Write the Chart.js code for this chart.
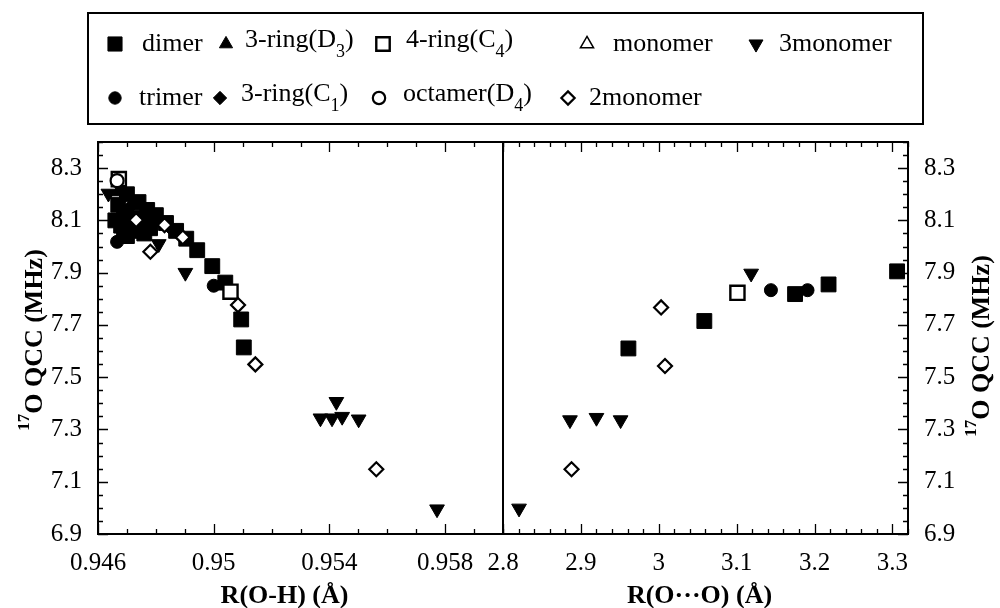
<!DOCTYPE html>
<html>
<head>
<meta charset="utf-8">
<script src="https://cdn.jsdelivr.net/npm/chart.js@4/dist/chart.umd.min.js"></script>
<style>
  html, body { margin: 0; background: #fff; }
</style>
</head>
<body>
<canvas id="qcc" width="1000" height="608"></canvas>
<script>
// axis ticks
const ohTicks = [0.946, 0.95, 0.954, 0.958];
const ooTicks = [2.8, 2.9, 3, 3.1, 3.2, 3.3];
const qccTicks = [6.9, 7.1, 7.3, 7.5, 7.7, 7.9, 8.1, 8.3];

// [R, QCC] pairs; OH = left panel, OO = right panel
const dimerOH = [[0.9470, 8.20], [0.9474, 8.17], [0.9477, 8.14], [0.9480, 8.12], [0.94835, 8.09],
  [0.9487, 8.06], [0.94905, 8.03], [0.94943, 7.986], [0.94995, 7.925], [0.9504, 7.862],
  [0.95095, 7.721], [0.95104, 7.614], [0.9468, 8.08], [0.9470, 8.04], [0.9473, 8.06],
  [0.9476, 8.05], [0.9469, 8.12], [0.9472, 8.11], [0.9467, 8.16], [0.9471, 8.08],
  [0.9475, 8.10], [0.9478, 8.07], [0.9466, 8.10], [0.9469, 8.06]];
const dimerOO = [[2.961, 7.61], [3.0585, 7.715], [3.175, 7.818], [3.218, 7.855], [3.306, 7.905]];
const ring3D3OH = [[0.9467, 8.21], [0.9474, 8.05]];
const ring3D3OO = [];
const ring4C4OH = [[0.94672, 8.258], [0.95058, 7.827]];
const ring4C4OO = [[3.101, 7.823]];
const monomerOH = [];
const monomerOO = [];
const monomer3OH = [[0.94636, 8.203], [0.9481, 8.01], [0.94902, 7.90], [0.95369, 7.343],
  [0.95409, 7.343], [0.95444, 7.349], [0.95424, 7.406], [0.95501, 7.339], [0.95772, 6.995]];
const monomer3OO = [[2.8206, 6.998], [2.886, 7.336], [2.920, 7.345], [2.951, 7.336], [3.1186, 7.897]];
const trimerOH = [[0.94666, 8.018], [0.9500, 7.850]];
const trimerOO = [[3.144, 7.833], [3.191, 7.833]];
const ring3C1OH = [[0.9471, 8.15], [0.9478, 8.09], [0.9485, 8.07]];
const ring3C1OO = [];
const octamerOH = [[0.94666, 8.252]];
const octamerOO = [];
const monomer2OH = [[0.94732, 8.101], [0.9483, 8.082], [0.94893, 8.035], [0.94781, 7.98],
  [0.95084, 7.776], [0.95144, 7.549], [0.95562, 7.148]];
const monomer2OO = [[2.888, 7.148], [3.003, 7.767], [3.008, 7.543]];

const FONT = "'Liberation Serif', 'Times New Roman', serif";

const filled = (style, r, rot) => ({ pointStyle: style, pointRadius: r, pointRotation: rot || 0,
  pointBackgroundColor: '#000', pointBorderColor: '#000', pointBorderWidth: 1 });
const open = (style, r, w) => ({ pointStyle: style, pointRadius: r, pointRotation: 0,
  pointBackgroundColor: '#fff', pointBorderColor: '#000', pointBorderWidth: w });

// first entry is drawn on top
const series = [
  { key: 'octamer', label: [['octamer(D'], ['4', 1], [')']], oh: octamerOH, oo: octamerOO, style: open('circle', 6.5, 2.2) },
  { key: '2monomer', label: [['2monomer']], oh: monomer2OH, oo: monomer2OO, style: open('rectRot', 7, 2.2) },
  { key: '4ring', label: [['4-ring(C'], ['4', 1], [')']], oh: ring4C4OH, oo: ring4C4OO, style: open('rect', 10, 2.4) },
  { key: 'trimer', label: [['trimer']], oh: trimerOH, oo: trimerOO, style: filled('circle', 6.5) },
  { key: '3ringC1', label: [['3-ring(C'], ['1', 1], [')']], oh: ring3C1OH, oo: ring3C1OO, style: filled('rectRot', 7) },
  { key: '3ringD3', label: [['3-ring(D'], ['3', 1], [')']], oh: ring3D3OH, oo: ring3D3OO, style: filled('triangle', 8) },
  { key: 'monomer', label: [['monomer']], oh: monomerOH, oo: monomerOO, style: open('triangle', 8, 1.5) },
  { key: '3monomer', label: [['3monomer']], oh: monomer3OH, oo: monomer3OO, style: filled('triangle', 8.5, 180) },
  { key: 'dimer', label: [['dimer']], oh: dimerOH, oo: dimerOO, style: filled('rect', 10.5) }
];

const datasets = series.flatMap(s => [
  Object.assign({ label: s.key, xAxisID: 'x1', data: s.oh.map(([x, y]) => ({ x, y })) }, s.style),
  Object.assign({ label: s.key, xAxisID: 'x2', data: s.oo.map(([x, y]) => ({ x, y })) }, s.style)
]);

// legend slots: [key, marker x, text x, row y]
const legendSlots = [
  ['dimer', 115, 142, 44], ['3ringD3', 226, 245, 44], ['4ring', 383, 406, 44],
  ['monomer', 587, 613, 44], ['3monomer', 756, 779, 44],
  ['trimer', 115, 139, 98], ['3ringC1', 220, 241, 98], ['octamer', 379, 403, 98],
  ['2monomer', 568, 589, 98]
];

function drawRich(ctx, parts, x, y, size, bold) {
  const w = bold ? 'bold ' : '';
  const hasSub = parts.some(p => p[1]);
  ctx.textBaseline = 'middle';
  ctx.textAlign = 'left';
  parts.forEach(p => {
    if (p[1]) {
      ctx.font = w + Math.round(size * 0.68) + 'px ' + FONT;
      ctx.fillText(p[0], x, y + size * 0.3);
    } else {
      ctx.font = w + size + 'px ' + FONT;
      ctx.fillText(p[0], x, hasSub ? y - 4 : y);
    }
    x += ctx.measureText(p[0]).width;
  });
}

const framePlugin = {
  id: 'frame',
  beforeDatasetsDraw(chart) {
    const { ctx, chartArea: a, scales } = chart;
    ctx.save();
    ctx.strokeStyle = '#000';
    ctx.lineWidth = 1.3;
    const xMarks = (s, step, majors) => {
      const n = Math.round((s.max - s.min) / step);
      for (let i = 0; i <= n; i++) {
        const v = s.min + i * step;
        const big = majors.some(m => Math.abs(m - v) < step / 10);
        const px = Math.round(s.getPixelForValue(v)) + 0.5;
        const len = big ? 10 : 5;
        ctx.beginPath();
        ctx.moveTo(px, a.bottom); ctx.lineTo(px, a.bottom - len);
        ctx.moveTo(px, a.top); ctx.lineTo(px, a.top + len);
        ctx.stroke();
      }
    };
    xMarks(scales.x1, 0.001, ohTicks);
    xMarks(scales.x2, 0.02, ooTicks);
    const y = scales.y;
    const n = Math.round((y.max - y.min) / 0.05);
    for (let i = 0; i <= n; i++) {
      const v = y.min + i * 0.05;
      const big = qccTicks.some(m => Math.abs(m - v) < 0.005);
      const py = Math.round(y.getPixelForValue(v)) + 0.5;
      const len = big ? 10 : 5;
      ctx.beginPath();
      ctx.moveTo(a.left, py); ctx.lineTo(a.left + len, py);
      ctx.moveTo(a.right, py); ctx.lineTo(a.right - len, py);
      ctx.stroke();
    }
    ctx.lineWidth = 2;
    ctx.strokeRect(a.left, a.top, a.right - a.left, a.bottom - a.top);
    const div = Math.round(scales.x1.right);
    ctx.beginPath();
    ctx.moveTo(div, a.top); ctx.lineTo(div, a.bottom);
    ctx.stroke();
    ctx.restore();
  },
  afterDraw(chart) {
    const { ctx, chartArea: a, scales } = chart;
    ctx.save();
    ctx.fillStyle = '#000';
    // axis titles
    ctx.textAlign = 'center';
    ctx.textBaseline = 'middle';
    ctx.font = 'bold 26px ' + FONT;
    ctx.fillText('R(O-H) (Å)', (scales.x1.left + scales.x1.right) / 2 - 16, 596);
    ctx.fillText('R(O\u00b7\u00b7\u00b7O) (Å)', (scales.x2.left + scales.x2.right) / 2 - 6, 596);
    const yTitle = (cx, cy) => {
      ctx.save();
      ctx.translate(cx, cy);
      ctx.rotate(-Math.PI / 2);
      ctx.font = 'bold 26px ' + FONT;
      const main = 'O QCC (MHz)';
      const mw = ctx.measureText(main).width;
      ctx.font = 'bold 17px ' + FONT;
      const sw = ctx.measureText('17').width;
      const x0 = -(mw + sw) / 2;
      ctx.textAlign = 'left';
      ctx.fillText('17', x0, -8);
      ctx.font = 'bold 26px ' + FONT;
      ctx.fillText(main, x0 + sw, 2);
      ctx.restore();
    };
    yTitle(33, (a.top + a.bottom) / 2 + 2);
    yTitle(980, (a.top + a.bottom) / 2 + 8);

    // legend box
    ctx.strokeStyle = '#000';
    ctx.lineWidth = 2;
    ctx.strokeRect(88, 13, 835, 111);
    legendSlots.forEach(([key, mx, tx, ry]) => {
      const s = series.find(e => e.key === key);
      const st = s.style;
      ctx.fillStyle = st.pointBackgroundColor;
      ctx.strokeStyle = st.pointBorderColor;
      ctx.lineWidth = st.pointBorderWidth;
      Chart.helpers.drawPoint(ctx, {
        pointStyle: st.pointStyle, radius: st.pointRadius * 0.95,
        rotation: st.pointRotation, borderWidth: st.pointBorderWidth
      }, mx, ry);
      ctx.fillStyle = '#000';
      drawRich(ctx, s.label, tx, ry, 26, false);
    });
    ctx.restore();
  }
};

const tickFont = { family: FONT, size: 25 };
const xScale = (min, max, ticks) => ({
  type: 'linear', position: 'bottom', stack: 'r', stackWeight: 1,
  min, max,
  grid: { display: false, drawTicks: false },
  border: { display: false },
  afterBuildTicks: s => { s.ticks = ticks.map(v => ({ value: v })); },
  afterFit: s => { s.height = 74; },
  ticks: { font: tickFont, color: '#000', padding: 14, autoSkip: false, maxRotation: 0,
    callback: v => String(v) }
});
const yScale = (pos, width) => ({
  type: 'linear', position: pos, min: 6.9, max: 8.4,
  grid: { display: false, drawTicks: false },
  border: { display: false },
  afterBuildTicks: s => { s.ticks = qccTicks.map(v => ({ value: v })); },
  afterFit: s => { s.width = width; },
  ticks: { font: tickFont, color: '#000', padding: 16, autoSkip: false,
    callback: v => String(v) }
});

new Chart(document.getElementById('qcc'), {
  type: 'scatter',
  data: { datasets },
  options: {
    responsive: false,
    animation: false,
    devicePixelRatio: 1,
    layout: { padding: { top: 142, left: 0, right: 0, bottom: 0 } },
    plugins: { legend: { display: false }, tooltip: { enabled: false } },
    scales: {
      x1: xScale(0.946, 0.960, ohTicks),
      x2: xScale(2.8, 3.32, ooTicks),
      y: yScale('left', 98),
      y2: yScale('right', 92)
    }
  },
  plugins: [framePlugin]
});
</script>
</body>
</html>
